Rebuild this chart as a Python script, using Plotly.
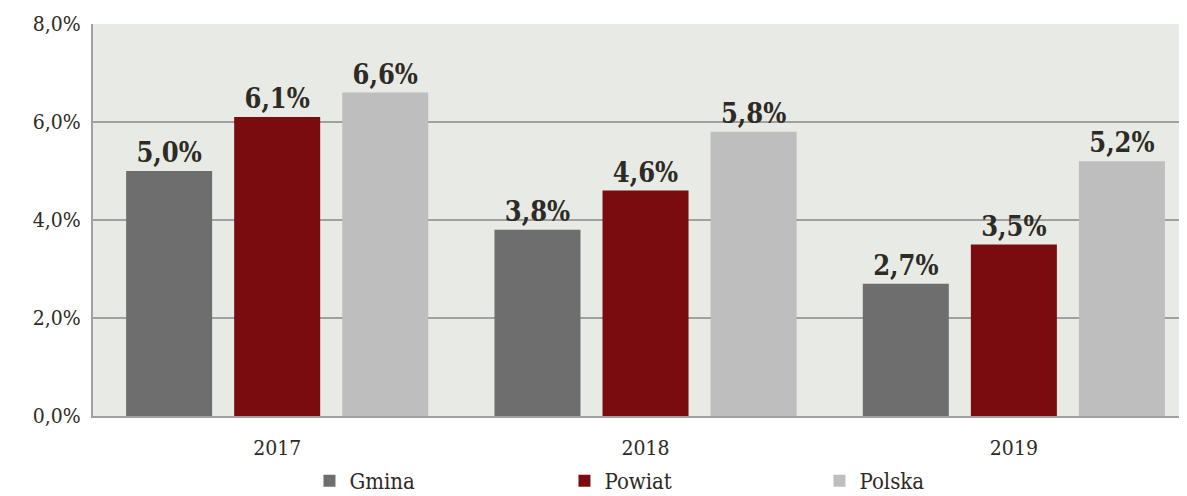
import plotly.graph_objects as go

years = ["2017", "2018", "2019"]
gmina = [5.0, 3.8, 2.7]
powiat = [6.1, 4.6, 3.5]
polska = [6.6, 5.8, 5.2]

series = [("Gmina", gmina, "#6E6E6E"), ("Powiat", powiat, "#7A0C10"), ("Polska", polska, "#BEBEBE")]
txt = "#2E2A24"
font = "DejaVu Serif Condensed, DejaVu Serif"

fig = go.Figure()
for name, vals, col in series:
    fig.add_trace(go.Bar(
        x=years, y=vals, name=name, marker=dict(color=col, line=dict(width=0)),
        texttemplate="<b>%{y:.1f}%</b>", textposition="outside", cliponaxis=False,
        textfont=dict(family=font, size=27, color=txt),
    ))

fig.update_layout(
    width=1179, height=488,
    margin=dict(l=85, r=0, t=16, b=80, autoexpand=False),
    paper_bgcolor="white", plot_bgcolor="#E8EAE6",
    barmode="group", bargap=0.12, bargroupgap=0.204,
    separators=", ",
    font=dict(family=font, size=21, color=txt),
    showlegend=True,
    legend=dict(orientation="h", x=0.5475, xanchor="center", y=-0.219, yanchor="bottom",
                bgcolor="rgba(0,0,0,0)",
                entrywidth=210, entrywidthmode="pixels", itemsizing="constant",
                font=dict(family=font, size=22, color=txt), traceorder="normal"),
)
fig.update_xaxes(range=[-0.5, 2.47], showline=True, linecolor="#A0A0A0", linewidth=2,
                 ticks="outside", ticklen=12, tickcolor="rgba(0,0,0,0)",
                 tickfont=dict(family=font, size=21, color=txt))
fig.update_yaxes(range=[0, 8], dtick=2, tickformat=".1f", ticksuffix="%",
                 showgrid=True, gridcolor="#A0A0A0", gridwidth=2,
                 showline=True, linecolor="#A0A0A0", linewidth=2, mirror=True,
                 ticks="outside", ticklen=6, tickcolor="rgba(0,0,0,0)",
                 tickfont=dict(family=font, size=21, color=txt), zeroline=False)
fig.write_html("out.html")
